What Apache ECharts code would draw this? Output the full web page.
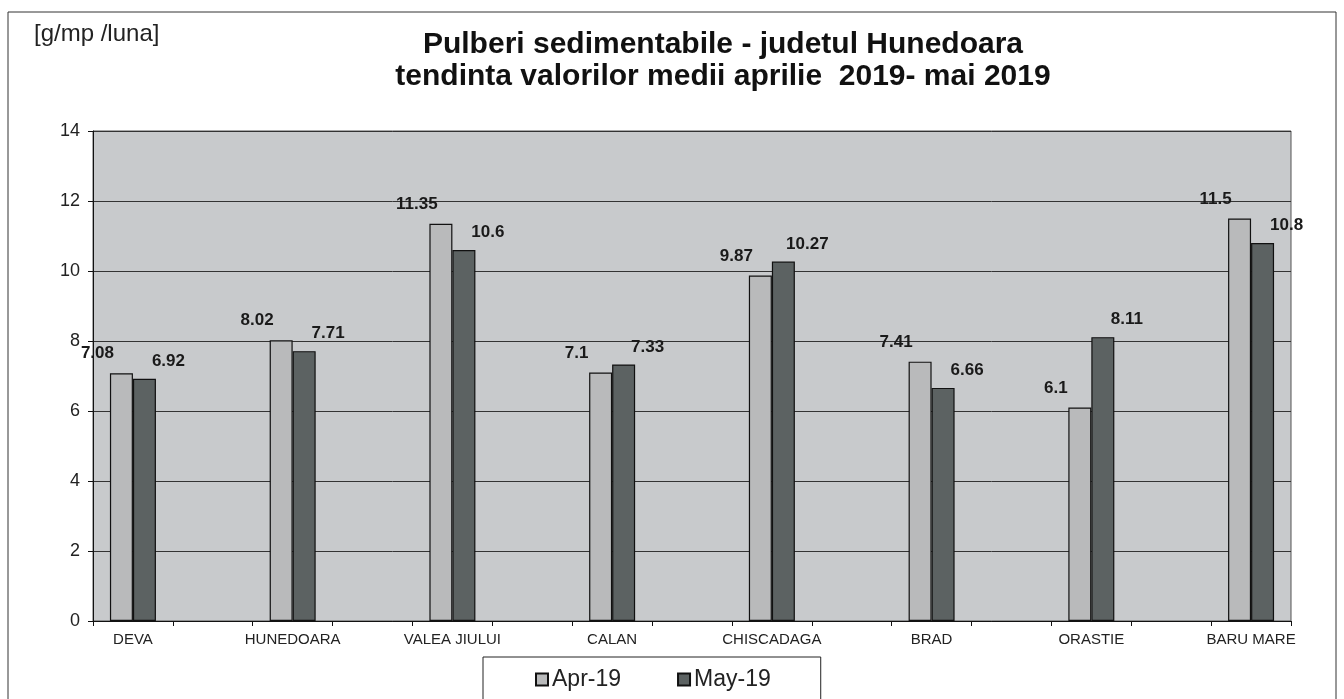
<!DOCTYPE html>
<html>
<head>
<meta charset="utf-8">
<script src="https://cdn.jsdelivr.net/npm/echarts@6/dist/echarts.min.js"></script>
<style>
  html, body { margin: 0; padding: 0; background: #fff; }
  #chart { width: 1344px; height: 699px; }
</style>
</head>
<body>
<div id="chart"></div>
<script>
  // date
  const categories = ['DEVA', 'HUNEDOARA', 'VALEA JIULUI', 'CALAN', 'CHISCADAGA', 'BRAD', 'ORASTIE', 'BARU MARE']
  const apr19 = [7.08, 8.02, 11.35, 7.1, 9.87, 7.41, 6.1, 11.5]
  const may19 = [6.92, 7.71, 10.6, 7.33, 10.27, 6.66, 8.11, 10.8]
  const seriesNames = ['Apr-19', 'May-19']

  // in Excel sunt categorii goale intre statii
  let xCats = []
  let aprData = []
  let mayData = []
  categories.forEach((c, i) => {
    if (i > 0) {
      xCats.push('')
      aprData.push('-')
      mayData.push('-')
    }
    xCats.push(c)
    aprData.push(apr19[i])
    mayData.push(may19[i])
  })

  const myChart = echarts.init(document.getElementById('chart'))
  const font = 'Liberation Sans, Arial, sans-serif'

  let option = {
    animation: false,
    backgroundColor: '#fff',
    textStyle: { fontFamily: font },
    title: [
      {
        text: 'Pulberi sedimentabile - judetul Hunedoara\ntendinta valorilor medii aprilie  2019- mai 2019',
        left: 718,
        top: 24,
        textAlign: 'center',
        textStyle: { fontSize: 30, fontWeight: 'bold', color: '#111', lineHeight: 32, fontFamily: font }
      },
      {
        text: '[g/mp /luna]',
        left: 29,
        top: 17,
        textStyle: { fontSize: 24, fontWeight: 'normal', color: '#222', fontFamily: font }
      }
    ],
    graphic: [
      {
        type: 'rect',
        shape: { x: 8, y: 12, width: 1328, height: 720 },
        style: { fill: 'none', stroke: '#333', lineWidth: 1 },
        silent: true
      }
    ],
    legend: {
      data: seriesNames,
      left: 483,
      top: 657,
      padding: [11, 50, 30, 52],
      itemGap: 56,
      itemWidth: 12,
      itemHeight: 12,
      icon: 'rect',
      borderColor: '#222',
      borderWidth: 1,
      textStyle: { fontSize: 23, color: '#222', fontFamily: font, padding: [0, 0, 0, -1] }
    },
    grid: {
      left: 93,
      right: 53,
      top: 131,
      bottom: 78,
      show: true,
      backgroundColor: '#c8cacc',
      borderColor: '#555',
      borderWidth: 1
    },
    xAxis: {
      type: 'category',
      data: xCats,
      axisLine: { lineStyle: { color: '#111', width: 1 } },
      axisTick: { show: true, interval: 0, length: 5, lineStyle: { color: '#111' } },
      axisLabel: { interval: 0, color: '#222', fontSize: 15, margin: 11, fontFamily: font }
    },
    yAxis: {
      type: 'value',
      min: 0,
      max: 14,
      interval: 2,
      axisLine: { show: true, lineStyle: { color: '#111' } },
      axisTick: { show: true, length: 5, lineStyle: { color: '#111' } },
      axisLabel: { color: '#222', fontSize: 18, margin: 13, fontFamily: font },
      splitLine: { lineStyle: { color: '#333', width: 1 } }
    },
    series: [
      {
        name: seriesNames[0],
        type: 'bar',
        data: aprData,
        barWidth: 23,
        barGap: '0%',
        itemStyle: { color: '#b9babb', borderColor: '#111', borderWidth: 1.2 },
        label: {
          show: true,
          position: 'top',
          offset: [-24, -6],
          fontSize: 17,
          fontWeight: 'bold',
          color: '#1a1a1a',
          fontFamily: font
        }
      },
      {
        name: seriesNames[1],
        type: 'bar',
        data: mayData,
        barWidth: 23,
        itemStyle: { color: '#5c6262', borderColor: '#111', borderWidth: 1.2 },
        label: {
          show: true,
          position: 'top',
          offset: [24, -4],
          fontSize: 17,
          fontWeight: 'bold',
          color: '#1a1a1a',
          fontFamily: font
        }
      }
    ]
  }
  option && myChart.setOption(option)
</script>
</body>
</html>
